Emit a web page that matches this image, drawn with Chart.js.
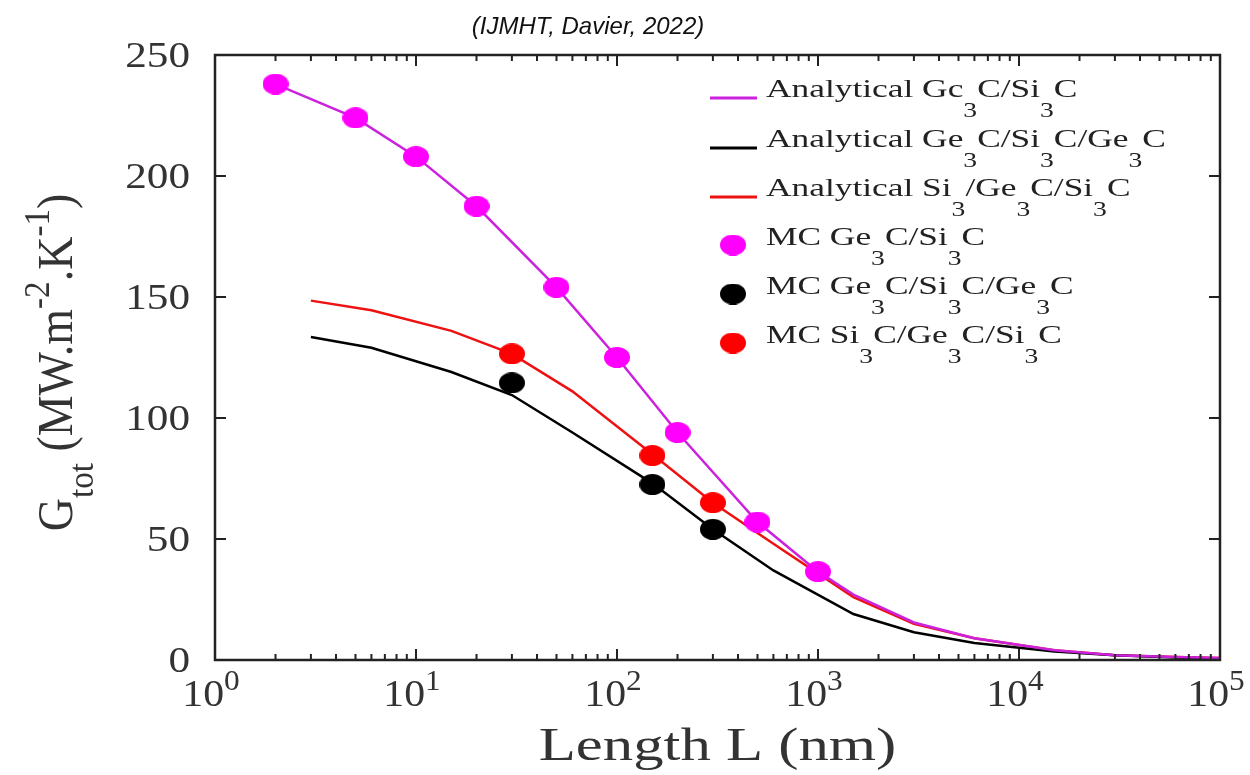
<!DOCTYPE html>
<html><head><meta charset="utf-8">
<script src="https://cdn.jsdelivr.net/npm/chart.js@4.4.0/dist/chart.umd.min.js"></script>
<style>html,body{margin:0;padding:0;background:#fff;} #wrap{width:1250px;height:775px;position:relative;}</style>
</head><body><div id="wrap"><canvas id="c" width="1250" height="775"></canvas></div>
<script>
// ---- text ----
const titleText = '(IJMHT, Davier, 2022)';
const xTitle = 'Length L (nm)';
const yTitle = 'G_{tot} (MW.m^{-2}.K^{-1})';
const yTicks = [0, 50, 100, 150, 200, 250];
const xTickExps = [0, 1, 2, 3, 4, 5];
const seriesLabels = [
  'Analytical Gc_{3}C/Si_{3}C',
  'Analytical Ge_{3}C/Si_{3}C/Ge_{3}C',
  'Analytical Si_{3}/Ge_{3}C/Si_{3}C',
  'MC Ge_{3}C/Si_{3}C',
  'MC Ge_{3}C/Si_{3}C/Ge_{3}C',
  'MC Si_{3}C/Ge_{3}C/Si_{3}C'
];
// ---- data ----
const mcLen1 = [2, 5, 10, 20, 50, 100, 200, 500, 1000];
const mcG1   = [238, 224, 208, 187.5, 154, 125, 94, 57, 36.5];
const mcLen23 = [30, 150, 300];
const mcG2   = [114.5, 72.5, 54];
const mcG3   = [126.5, 84.5, 65];

const anLen1 = [2, 5, 10, 20, 50, 100, 200, 500, 1000, 1500, 3000, 6000, 15000, 30000, 60000, 100000];
const anG1   = [238, 224, 208, 187.5, 154, 125, 94, 57, 36.5, 27, 15.5, 9, 4, 2, 1.2, 0.8];
const anLen23 = [3, 6, 15, 30, 60, 150, 300, 600, 1500, 3000, 6000, 15000, 30000, 60000, 100000];
const anG2   = [133.5, 129, 119, 109.5, 94, 73, 54, 37, 19, 11.5, 7, 3.5, 2, 1, 0.5];
const anG3   = [148.5, 144.5, 136, 126.5, 111, 85, 65, 48, 26, 15, 9, 4, 2, 1.2, 0.8];

const lineColors = ['#cc22dd', '#000000', '#ee1111'];
const dotColors  = ['#ff00ff', '#000000', '#ff0000'];

const zip = (xs, ys) => xs.map((v, i) => ({x: v, y: ys[i]}));

function ellipse(color, w, h) {
  const c = document.createElement('canvas');
  c.width = w; c.height = h;
  const g = c.getContext('2d');
  g.fillStyle = color;
  g.beginPath(); g.ellipse(w/2, h/2, w/2, h/2, 0, 0, Math.PI*2); g.fill();
  return c;
}
const dotImgs = dotColors.map(c => ellipse(c, 26, 21));

function parseRich(s) {
  const out = []; let i = 0, buf = '';
  while (i < s.length) {
    const c = s[i];
    if (c === '_' || c === '^') {
      if (buf) { out.push({t: buf, m: 0}); buf = ''; }
      let t;
      if (s[i+1] === '{') { const j = s.indexOf('}', i); t = s.slice(i+2, j); i = j + 1; }
      else { t = s[i+1]; i += 2; }
      out.push({t, m: c === '_' ? 1 : 2});
    } else { buf += c; i++; }
  }
  if (buf) out.push({t: buf, m: 0});
  return out;
}
const SERIF = '"Liberation Serif", "Times New Roman", serif';
function drawRich(ctx, s, x, y, o) {
  const parts = parseRich(s);
  const fam = o.family || SERIF;
  const small = o.size * (o.small || 0.72);
  ctx.save();
  ctx.translate(x, y);
  ctx.scale(o.sx || 1, 1);
  if (o.rot) ctx.rotate(o.rot);
  ctx.fillStyle = o.color || '#222';
  ctx.textBaseline = 'alphabetic'; ctx.textAlign = 'left';
  let w = 0;
  const ws = parts.map(p => { ctx.font = (p.m ? small : o.size) + 'px ' + fam; const m = ctx.measureText(p.t).width; w += m; return m; });
  let cx = o.align === 'center' ? -w/2 : (o.align === 'right' ? -w : 0);
  parts.forEach((p, k) => {
    ctx.font = (p.m ? small : o.size) + 'px ' + fam;
    const dy = p.m === 1 ? o.size * (o.subDy ?? 0.6) : (p.m === 2 ? -o.size * (o.supDy ?? 0.45) : 0);
    ctx.fillText(p.t, cx, dy);
    cx += ws[k];
  });
  ctx.restore();
}
function seg(ctx, x1, y1, x2, y2) { ctx.beginPath(); ctx.moveTo(x1, y1); ctx.lineTo(x2, y2); ctx.stroke(); }

const deco = {
  id: 'deco',
  afterDraw(chart) {
    const {ctx, chartArea: a, scales: {x, y}} = chart;
    ctx.save();
    ctx.strokeStyle = '#222'; ctx.lineWidth = 2;
    // ticks
    yTicks.forEach(v => {
      const py = y.getPixelForValue(v);
      seg(ctx, a.left, py, a.left + 11, py);
      seg(ctx, a.right, py, a.right - 11, py);
      drawRich(ctx, String(v), 190, py + 12, {size: 36, align: 'right', sx: 1.2, color: '#333'});
    });
    xTickExps.forEach(e => {
      const base = Math.pow(10, e);
      const px = x.getPixelForValue(base);
      seg(ctx, px, a.bottom, px, a.bottom - 11);
      seg(ctx, px, a.top, px, a.top + 11);
      drawRich(ctx, '10^{' + e + '}', px - 4, 706, {size: 38, align: 'center', sx: 1.1, color: '#333', supDy: 0.42, small: 0.75});
      if (e < xTickExps[xTickExps.length - 1]) {
        for (let m = 2; m <= 9; m++) {
          const pm = x.getPixelForValue(m * base);
          seg(ctx, pm, a.bottom, pm, a.bottom - 6);
          seg(ctx, pm, a.top, pm, a.top + 6);
        }
      }
    });
    // box
    ctx.lineWidth = 2.5;
    ctx.strokeRect(a.left, a.top, a.right - a.left, a.bottom - a.top);
    // titles
    drawRich(ctx, xTitle, (a.left + a.right)/2, 760, {size: 46, align: 'center', sx: 1.32, color: '#333'});
    drawRich(ctx, yTitle, 72, (a.top + a.bottom)/2 + 5, {size: 46, align: 'center', rot: -Math.PI/2, sx: 1.1, color: '#333', subDy: 0.42, supDy: 0.45, small: 0.72});
    ctx.font = 'italic 24px "Liberation Sans", "DejaVu Sans", sans-serif';
    ctx.fillStyle = '#111'; ctx.textAlign = 'center'; ctx.textBaseline = 'alphabetic';
    ctx.fillText(titleText, 588, 34);
    // legend
    const lx1 = 710, lx2 = 757, tx = 766;
    const rows = [97, 147, 196, 245, 294, 343];
    for (let i = 0; i < 3; i++) {
      ctx.strokeStyle = lineColors[i]; ctx.lineWidth = 3;
      seg(ctx, lx1, rows[i] + 1, lx2, rows[i] + 1);
    }
    for (let i = 0; i < 3; i++) {
      const img = dotImgs[i];
      ctx.drawImage(img, 733 - img.width/2, rows[3 + i] - img.height/2);
    }
    seriesLabels.forEach((s, i) => {
      drawRich(ctx, s, tx, rows[i], {size: 26, sx: 1.36, color: '#222', subDy: 0.75, small: 0.78});
    });
    ctx.restore();
  }
};

const lineDs = (data, i, label) => ({label, data, type: 'line', borderColor: lineColors[i], borderWidth: 2.5, pointRadius: 0, tension: 0, fill: false, order: 2});
const dotDs = (data, i, label) => ({label, data, type: 'line', showLine: false, pointStyle: dotImgs[i], pointRadius: 11, backgroundColor: dotColors[i], borderColor: dotColors[i], order: 1});

new Chart(document.getElementById('c'), {
  type: 'line',
  data: {
    datasets: [
      lineDs(zip(anLen1, anG1), 0, seriesLabels[0]),
      lineDs(zip(anLen23, anG2), 1, seriesLabels[1]),
      lineDs(zip(anLen23, anG3), 2, seriesLabels[2]),
      dotDs(zip(mcLen1, mcG1), 0, seriesLabels[3]),
      dotDs(zip(mcLen23, mcG2), 1, seriesLabels[4]),
      dotDs(zip(mcLen23, mcG3), 2, seriesLabels[5])
    ]
  },
  options: {
    responsive: false, animation: false, events: [],
    layout: {padding: {left: 215, right: 30, top: 55, bottom: 115}},
    plugins: {legend: {display: false}, tooltip: {enabled: false}, title: {display: false}},
    scales: {
      x: {type: 'logarithmic', min: 1, max: 100000, display: false},
      y: {type: 'linear', min: 0, max: 250, display: false}
    }
  },
  plugins: [deco]
});
</script>
</body></html>
